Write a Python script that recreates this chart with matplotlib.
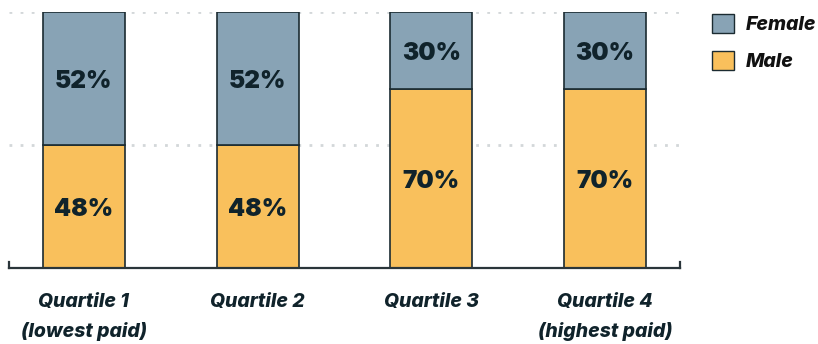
import matplotlib

matplotlib.use("Agg")
import matplotlib.pyplot as plt
from matplotlib.patches import Patch

categories = ["Quartile 1\n(lowest paid)", "Quartile 2", "Quartile 3", "Quartile 4\n(highest paid)"]
male = [48, 48, 70, 70]
female = [52, 52, 30, 30]
grid_levels = [48, 100]

MALE_C = "#F9C05C"
FEMALE_C = "#88A3B5"
EDGE = "#1B2B31"
TEXT = "#10232B"

plt.rcParams["font.family"] = ["Inter", "DejaVu Sans"]

W, H = 818, 344
fig = plt.figure(figsize=(W / 100, H / 100), dpi=100)
ax = fig.add_axes([9 / W, (H - 268) / H, (680 - 9) / W, (268 - 12) / H])

x = list(range(len(categories)))
width = 0.471
for lvl in grid_levels:
    ax.axhline(lvl, color="#D3D7D9", linestyle=(0, (1, 3)), linewidth=2,
               dash_capstyle="butt", zorder=0)

ax.bar(x, male, width, color=MALE_C, edgecolor=EDGE, linewidth=1.2, zorder=2)
ax.bar(x, female, width, bottom=male, color=FEMALE_C, edgecolor=EDGE, linewidth=1.2, zorder=2)

num_font = {"fontsize": 17.5, "fontweight": "black"}
for xi, m, f in zip(x, male, female):
    ax.text(xi, m / 2 - 1.3, f"{m}%", ha="center", va="center", color=TEXT, zorder=3, **num_font)
    ax.text(xi, m + f / 2 - 1.3, f"{f}%", ha="center", va="center", color=TEXT, zorder=3, **num_font)

ax.set_xlim(-0.431, 3.431)
ax.set_ylim(0, 100)
ax.set_xticks(x)
ax.set_xticklabels(categories, fontsize=14, fontweight="heavy", style="italic",
                   color=TEXT, linespacing=1.75)
ax.tick_params(axis="x", length=0, pad=18)
ax.set_yticks([])
for side in ["top", "right", "left"]:
    ax.spines[side].set_visible(False)
ax.spines["bottom"].set_color("#2A353A")
ax.spines["bottom"].set_linewidth(1.6)
# little upturned end caps on the baseline
ax.plot([-0.431, -0.431], [0, 2.2], color="#2A353A", lw=1.6, clip_on=False)
ax.plot([3.431, 3.431], [0, 2.2], color="#2A353A", lw=1.6, clip_on=False)

handles = [Patch(facecolor=FEMALE_C, edgecolor=EDGE, label="Female"),
           Patch(facecolor=MALE_C, edgecolor=EDGE, label="Male")]
fig.legend(handles=handles, loc="upper left", bbox_to_anchor=(712 / W, 1 - 14 / H),
           frameon=False, borderpad=0, borderaxespad=0,
           prop={"size": 14, "weight": "heavy", "style": "italic"},
           labelcolor="#111111", handlelength=1.12, handleheight=1.12,
           handletextpad=0.6, labelspacing=0.85)

fig.savefig("out.png", dpi=100)
